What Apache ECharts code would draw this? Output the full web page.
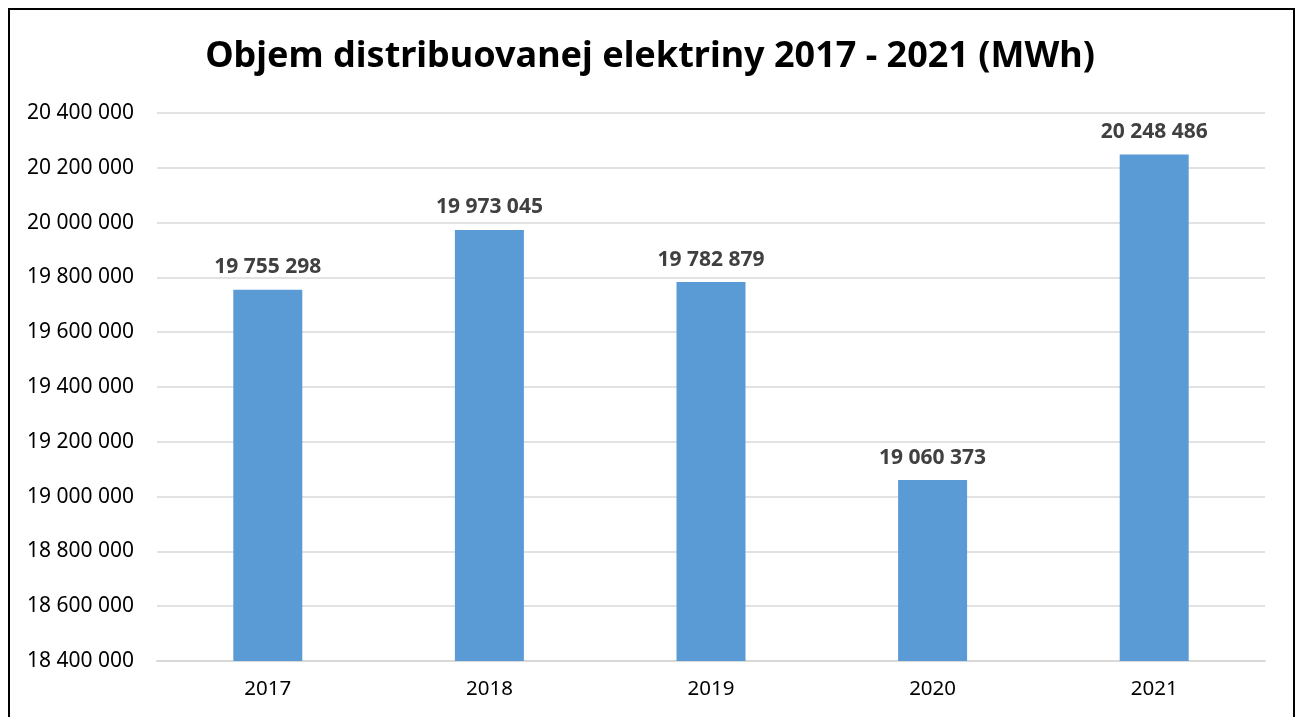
<!DOCTYPE html>
<html>
<head>
<meta charset="utf-8">
<script src="https://cdn.jsdelivr.net/npm/echarts@6/dist/echarts.min.js"></script>
<style>
  html, body { margin: 0; padding: 0; background: #fff; overflow: hidden; }
  #wrap { position: relative; width: 1300px; height: 717px; }
  #chart { position: absolute; left: 0; top: 0; width: 1300px; height: 717px; }
  #frame { position: absolute; left: 8px; top: 8px; width: 1283px; height: 730px;
           border: 2px solid #000; pointer-events: none; }
</style>
</head>
<body>
<div id="wrap">
  <div id="chart"></div>
  <div id="frame"></div>
</div>
<script>
// Annual distributed electricity volume, MWh
const years = ['2017', '2018', '2019', '2020', '2021'];
const volumes = [19755298, 19973045, 19782879, 19060373, 20248486];
const titleText = 'Objem distribuovanej elektriny 2017 - 2021 (MWh)';
const yMin = 18400000;
const yMax = 20400000;
const yStep = 200000;

const fmt = v => String(Math.round(v)).replace(/\B(?=(\d{3})+(?!\d))/g, ' ');
const font = '"Noto Sans", "Open Sans", sans-serif';

const chart = echarts.init(document.getElementById('chart'), null, { renderer: 'canvas' });
chart.setOption({
  animation: false,
  backgroundColor: '#fff',
  title: {
    text: titleText,
    left: 'center',
    top: 34,
    textStyle: { fontFamily: font, fontSize: 36, fontWeight: 'bold', color: '#000' }
  },
  grid: { left: 157, right: 35, top: 113, bottom: 56, containLabel: false },
  xAxis: {
    type: 'category',
    data: years,
    axisLine: { show: true, lineStyle: { color: '#d9d9d9', width: 2 } },
    axisTick: { show: false },
    axisLabel: { color: '#000', fontFamily: font, fontSize: 20.5, margin: 18 }
  },
  yAxis: {
    type: 'value',
    min: yMin,
    max: yMax,
    interval: yStep,
    axisLine: { show: false },
    axisTick: { show: false },
    splitLine: { lineStyle: { color: '#d9d9d9', width: 1.5 } },
    axisLabel: { color: '#000', fontFamily: font, fontSize: 21, margin: 23, formatter: fmt }
  },
  series: [{
    type: 'bar',
    data: volumes,
    barWidth: 69,
    itemStyle: { color: '#5b9bd5' },
    label: {
      show: true,
      position: 'top',
      distance: 12,
      formatter: p => fmt(p.value),
      color: '#404040',
      fontFamily: font,
      fontSize: 21,
      fontWeight: 'bold'
    }
  }]
});
</script>
</body>
</html>
